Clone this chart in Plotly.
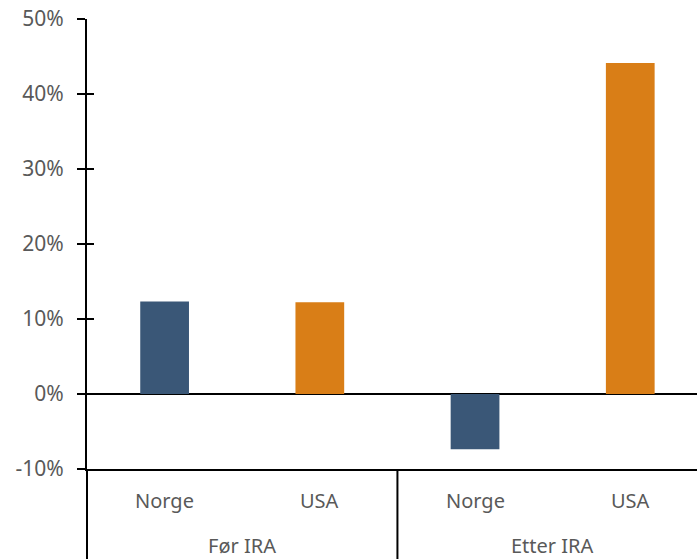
import plotly.graph_objects as go

groups = ["Før IRA", "Før IRA", "Etter IRA", "Etter IRA"]
countries = ["Norge", "USA", "Norge", "USA"]
values = [12.34, 12.24, -7.38, 44.15]
colors = ["#3A5777", "#D97E17", "#3A5777", "#D97E17"]
y_ticks = [-10, 0, 10, 20, 30, 40, 50]
y_labels = [f"{v}%" for v in y_ticks]

x_lo, x_hi = -0.5, 3.43
span = x_hi - x_lo
def px(i):
    return (i - x_lo) / span

font = dict(family="Noto Sans", size=20, color="#595959")
tfont = dict(family="Noto Sans", size=21, color="#595959")

fig = go.Figure()
fig.add_trace(go.Bar(
    x=[groups, countries], y=values,
    marker=dict(color=colors, line=dict(width=0)),
    width=0.314,
))
fig.add_trace(go.Scatter(x=[groups, countries], y=values, yaxis="y2",
                         mode="markers", marker=dict(opacity=0), hoverinfo="skip"))

plot_h = 559 - 19 - 90
bottom = -90 / plot_h

# category labels
for i, c in enumerate(countries):
    fig.add_annotation(x=px(i), y=0, xref="paper", yref="paper", text=c,
                       showarrow=False, xanchor="center", yanchor="middle",
                       yshift=-31, font=font)
uniq_groups = []
for g in groups:
    if g not in uniq_groups:
        uniq_groups.append(g)
for gi, g in enumerate(uniq_groups):
    idx = [i for i, gg in enumerate(groups) if gg == g]
    fig.add_annotation(x=px(sum(idx) / len(idx)), y=0, xref="paper", yref="paper",
                       text=g, showarrow=False, xanchor="center", yanchor="middle",
                       yshift=-76, font=font)
    # divider lines
    fig.add_shape(type="line", xref="paper", yref="paper",
                  x0=px(idx[0] - 0.5), x1=px(idx[0] - 0.5), y0=0, y1=bottom,
                  line=dict(color="black", width=2))

fig.update_layout(
    width=697, height=559,
    margin=dict(l=87, r=0, t=19, b=90),
    paper_bgcolor="white", plot_bgcolor="white",
    showlegend=False,
    font=font,
    xaxis=dict(
        type="multicategory",
        range=[x_lo, x_hi],
        showline=True, linecolor="black", linewidth=2,
        ticks="", showgrid=False, showticklabels=False,
        showdividers=False,
    ),
    yaxis=dict(
        range=[-10, 50],
        tickvals=y_ticks, ticktext=y_labels,
        showline=True, linecolor="black", linewidth=2,
        ticks="outside", ticklen=8, tickwidth=2, tickcolor="black",
        ticklabelstandoff=9,
        showgrid=False,
        zeroline=True, zerolinecolor="black", zerolinewidth=2,
        tickfont=tfont,
    ),
    yaxis2=dict(
        overlaying="y", range=[-10, 50], tickvals=y_ticks,
        showticklabels=False, ticks="inside", ticklen=7, tickwidth=2,
        tickcolor="black", showline=False, showgrid=False, zeroline=False,
        side="left",
    ),
)

fig.write_html("out.html")
